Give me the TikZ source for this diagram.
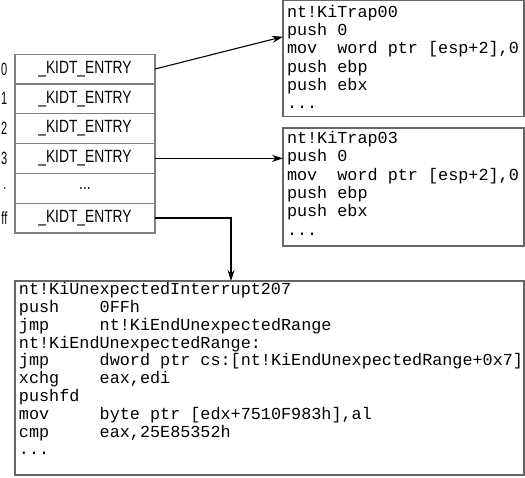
\documentclass[tikz,border=0pt]{standalone}
\usepackage{fontspec}
\setmainfont{Liberation Sans}
\setmonofont{Liberation Mono}
\usetikzlibrary{positioning,arrows.meta,calc}

% narrow sans text for the table
\newcommand{\narrowtxt}[1]{\scalebox{0.78}[1]{#1}}
% code listing: width, height, line skip, top space, lines
\newcommand{\asmtext}[5]{\parbox[c][#2][t]{#1}{\ttfamily\fontsize{16.8}{#3}\selectfont\raggedright\vspace*{#4}#5}}
% mnemonic padded to an 8 character tab
\newcommand{\op}[1]{\makebox[80.7pt][l]{#1}}

\begin{document}
\begin{tikzpicture}[
        x=1pt, y=-1pt,
        entry/.style={draw=gray, line width=1.2pt, outer sep=0pt, inner sep=0pt,
            minimum width=140pt, minimum height=29.8pt,
            font=\fontsize{17.7}{20}\selectfont},
        idx/.style={inner sep=0pt, anchor=east, font=\fontsize{17.7}{20}\selectfont},
        asm/.style={draw=gray!80!black, line width=1.2pt, outer sep=0pt,
            inner xsep=4pt, inner ysep=0pt, anchor=north west},
        arr/.style={-{Stealth[length=11pt, width=7pt]}, line width=1.1pt}
    ]
    \useasboundingbox (0,0) rectangle (525,477);

    % IDT table
    \node[entry] (r0) at (85,69) {\narrowtxt{\_KIDT\_ENTRY}};
    \node[entry, below=0pt of r0] (r1) {\narrowtxt{\_KIDT\_ENTRY}};
    \node[entry, below=0pt of r1] (r2) {\narrowtxt{\_KIDT\_ENTRY}};
    \node[entry, below=0pt of r2] (r3) {\narrowtxt{\_KIDT\_ENTRY}};
    \node[entry, below=0pt of r3] (r4) {\narrowtxt{...}};
    \node[entry, below=0pt of r4] (r5) {\narrowtxt{\_KIDT\_ENTRY}};

    % vector numbers
    \node[idx] (i0) at (r0.west -| 7.5,0) {\scalebox{0.62}[1]{0}};
    \node[idx] (i1) at (r1.west -| 7.5,0) {\scalebox{0.62}[1]{1}};
    \node[idx] (i2) at (r2.west -| 7.5,0) {\scalebox{0.62}[1]{2}};
    \node[idx] (i3) at (r3.west -| 7.5,0) {\scalebox{0.62}[1]{3}};
    \node[idx] (i4) at (r4.west -| 6.5,0) {\scalebox{0.62}[1]{.}};
    \node[idx] (i5) at (r5.west -| 7.5,0) {\scalebox{0.62}[1]{ff}};

    % handlers
    \node[asm] (trap0) at (283,0.7) {\asmtext{233pt}{116pt}{18.3pt}{4.5pt}{%
        nt!KiTrap00\\
        push 0\\
        \mbox{mov\ \ word ptr [esp+2],0}\\
        push ebp\\
        push ebx\\
        ...}};
    \node[asm] (trap3) at (283,128) {\asmtext{233pt}{118pt}{18.3pt}{3.5pt}{%
        nt!KiTrap03\\
        push 0\\
        \mbox{mov\ \ word ptr [esp+2],0}\\
        push ebp\\
        push ebx\\
        ...}};
    \node[asm] (unexp) at (15,281) {\asmtext{501pt}{194pt}{17.8pt}{1.5pt}{%
        nt!KiUnexpectedInterrupt207\\
        \op{push}0FFh\\
        \op{jmp}nt!KiEndUnexpectedRange\\
        nt!KiEndUnexpectedRange:\\
        \mbox{\op{jmp}dword ptr cs:[nt!KiEndUnexpectedRange+0x7]}\\
        \op{xchg}eax,edi\\
        pushfd\\
        \mbox{\op{mov}byte ptr [edx+7510F983h],al}\\
        \op{cmp}eax,25E85352h\\
        ...}};

    % arrows
    \coordinate (t0) at ($(trap0.north west)+(0,36)$);
    \coordinate (tff) at ($(unexp.north west)+(216,0)$);
    \draw[arr] (r0.east) -- (t0);
    \draw[arr] (r3.east) -- (r3.east -| trap3.west);
    \draw[arr] (r5.east) -| (tff);

\end{tikzpicture}
\end{document}
